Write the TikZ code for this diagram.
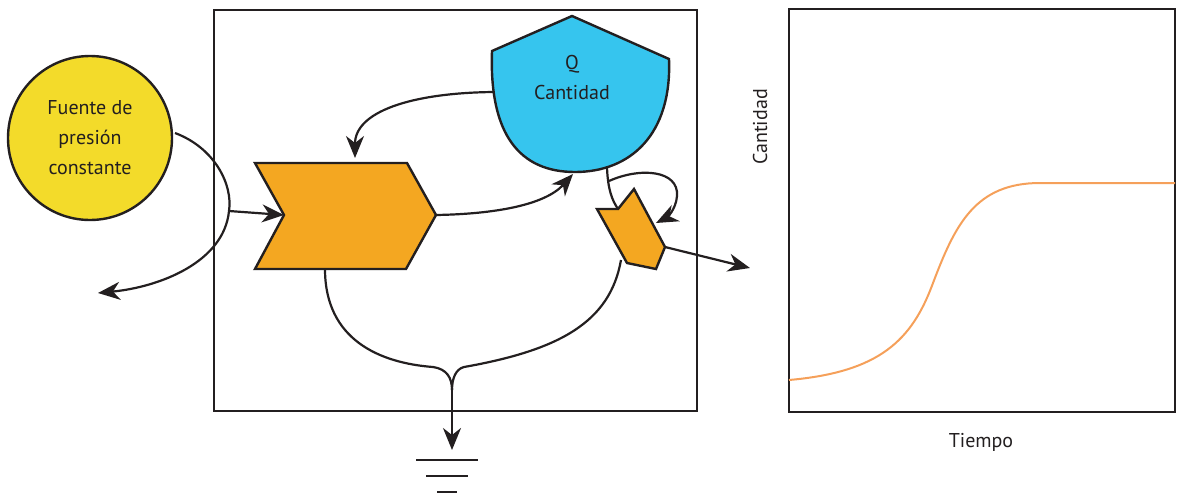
\documentclass[tikz,border=0pt]{standalone}
\usepackage{fontspec}
\setmainfont{PT Sans}
\usetikzlibrary{arrows.meta}
\definecolor{ink}{HTML}{231F20}
\definecolor{sunyellow}{HTML}{F3DB2A}
\definecolor{skyblue}{HTML}{36C5EE}
\definecolor{amber}{HTML}{F4A721}
\definecolor{curveorange}{HTML}{F5A05A}
\tikzset{
  frame/.style={draw=ink, line width=1.1pt},
  shapeline/.style={draw=ink, line width=1.2pt, line join=miter},
  conn/.style={draw=ink, line width=1.1pt},
  arr/.style={conn, -{Stealth[length=11pt,width=9pt,inset=3.5pt]}},
  lbl/.style={font=\fontsize{10}{15}\selectfont, text=ink, align=center, inner sep=0pt},
}
\begin{document}
\begin{tikzpicture}[x=0.5pt,y=-0.5pt]
\useasboundingbox (0,0) rectangle (1177,493);
% main frame
\draw[frame] (214,10) rectangle (697,411);
% source circle
\node[circle, shapeline, fill=sunyellow, minimum size=82pt, inner sep=0pt] (src) at (90,138) {};
\node[lbl] (srctext) at (90,138) {Fuente de\\presión\\constante};
% stock (blue)
\coordinate (qL) at (492,51);
\coordinate (qT) at (572,16);
\coordinate (qR) at (669,59);
\coordinate (qB) at (575,172);
\draw[shapeline, fill=skyblue] (qL) -- (qT) -- (qR) .. controls (672,135) and (630,172) .. (qB) .. controls (520,172) and (489,135) .. (qL) -- cycle;
\node[lbl] (qtext) at (572,77) {Q\\Cantidad};
% big chevron (inflow)
\coordinate (cTL) at (255,163);
\coordinate (cTR) at (407,163);
\coordinate (cP) at (436,215);
\coordinate (cBR) at (406,269);
\coordinate (cBL) at (255,269);
\coordinate (cN) at (284,215);
\draw[shapeline, fill=amber] (cTL) -- (cTR) -- (cP) -- (cBR) -- (cBL) -- (cN) -- cycle;
% small valve (outflow)
\coordinate (vA) at (597,209);
\coordinate (vB) at (618,209);
\coordinate (vC) at (634,189);
\coordinate (vD) at (665,247);
\coordinate (vE) at (656,269);
\coordinate (vF) at (627,263);
\draw[shapeline, fill=amber] (vA) -- (vB) -- (vC) -- (vD) -- (vE) -- (vF) -- cycle;
% connector points
\coordinate (srcOut) at (175,133);
\coordinate (bend) at (229,211);
\coordinate (leftEnd) at (98,293);
\coordinate (qLeft) at (493,92);
\coordinate (cTop) at (355,158);
\coordinate (qBot) at (573,174);
\coordinate (qOut) at (607,168);
\coordinate (loopStart) at (609,181);
\coordinate (loopEnd) at (656,223);
\coordinate (rightEnd) at (750,268);
\coordinate (cBot) at (325,269);
\coordinate (vBot) at (621,260);
\coordinate (merge) at (452,390);
\coordinate (sink) at (452,450);
% connectors
\draw[arr] (srcOut) .. controls (215,148) and (233,185) .. (bend) .. controls (224,262) and (160,287) .. (leftEnd);
\draw[arr] (bend) -- (cN);
\draw[arr] (qLeft) .. controls (410,93) and (355,112) .. (cTop);
\draw[arr] (cP) .. controls (495,214) and (545,205) .. (qBot);
\draw[conn] (qOut) .. controls (608,190) and (612,200) .. (vB);
\draw[arr] (loopStart) .. controls (640,167) and (679,170) .. (677,196) .. controls (676,210) and (666,218) .. (loopEnd);
\draw[arr] (vD) -- (rightEnd);
\draw[conn] (cBot) .. controls (325,340) and (380,363) .. (433,367) .. controls (447,369) and (452,378) .. (merge);
\draw[conn] (vBot) .. controls (610,322) and (560,350) .. (464,367) .. controls (456,369) and (452,378) .. (merge);
\draw[arr] (merge) -- (sink);
% ground symbol
\coordinate (g1L) at (416,460); \coordinate (g1R) at (478,460);
\coordinate (g2L) at (426,476); \coordinate (g2R) at (468,476);
\coordinate (g3L) at (437,492); \coordinate (g3R) at (457,492);
\draw[conn, line width=1.2pt] (g1L) -- (g1R);
\draw[conn, line width=1.2pt] (g2L) -- (g2R);
\draw[conn, line width=1.2pt] (g3L) -- (g3R);
% graph
\draw[frame] (789,9) rectangle (1175,412);
\draw[curveorange, line width=1pt] (789,380) .. controls (880,372) and (912,340) .. (933,283) .. controls (955,225) and (975,183) .. (1040,183) -- (1175,183);
\node[lbl, rotate=90] (ylab) at (760,127) {Cantidad};
\node[lbl] (xlab) at (981,442) {Tiempo};
\end{tikzpicture}
\end{document}
